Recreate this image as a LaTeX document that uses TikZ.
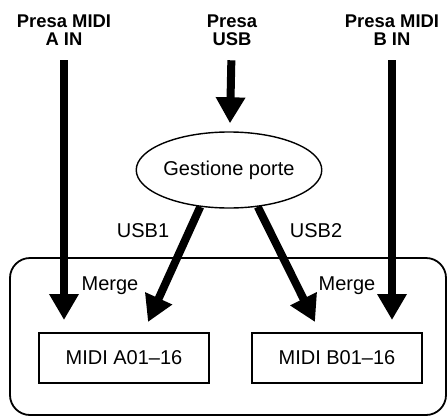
\documentclass[tikz,border=0pt]{standalone}
\usepackage{fontspec}
\setmainfont{Liberation Sans}
\usetikzlibrary{arrows.meta, shapes.geometric}

\begin{document}
\begin{tikzpicture}[
  x=0.5pt, y=-0.5pt,
  every node/.style={font=\fontsize{10}{12}\selectfont},
  port/.style={font=\fontsize{9.2}{8.8}\selectfont\bfseries, align=center},
  manager/.style={draw, line width=0.7pt, ellipse, minimum width=77pt,
                  minimum height=38pt, inner sep=0pt},
  part/.style={draw, line width=0.8pt, minimum width=85pt, minimum height=25pt},
  fatarrow/.style={-{Triangle[length=13pt, width=14pt]}, line width=4pt}
]
\useasboundingbox (0,0) rectangle (448,417);
\draw[line width=0.9pt, rounded corners=10pt] (10,258) rectangle (446,415);
\node[port] (ina) at (64,30)  {Presa MIDI\\A IN};
\node[port] (usb) at (232,30) {Presa\\USB};
\node[port] (inb) at (392,30) {Presa MIDI\\B IN};
\node[manager] (gp) at (229,170) {Gestione porte};
\node[part] (ma) at (124,358) {MIDI A01--16};
\node[part] (mb) at (337,358) {MIDI B01--16};
\node (usb1) at (143,231) {USB1};
\node (usb2) at (316,231) {USB2};
\node (mga) at (110,286) {Merge};
\node (mgb) at (347,286) {Merge};
\coordinate (tipa) at (64,320);
\coordinate (tipb) at (392,320);
\coordinate (tip1) at (148,322);
\coordinate (tip2) at (315,322);
\draw[fatarrow, shorten <=4pt] (ina) -- (tipa);
\draw[fatarrow, shorten <=4pt] (inb) -- (tipb);
\draw[fatarrow, shorten <=4pt, shorten >=4pt] (usb) -- (gp);
\draw[fatarrow] (gp.232) -- (tip1);
\draw[fatarrow] (gp.308) -- (tip2);
\end{tikzpicture}
\end{document}
